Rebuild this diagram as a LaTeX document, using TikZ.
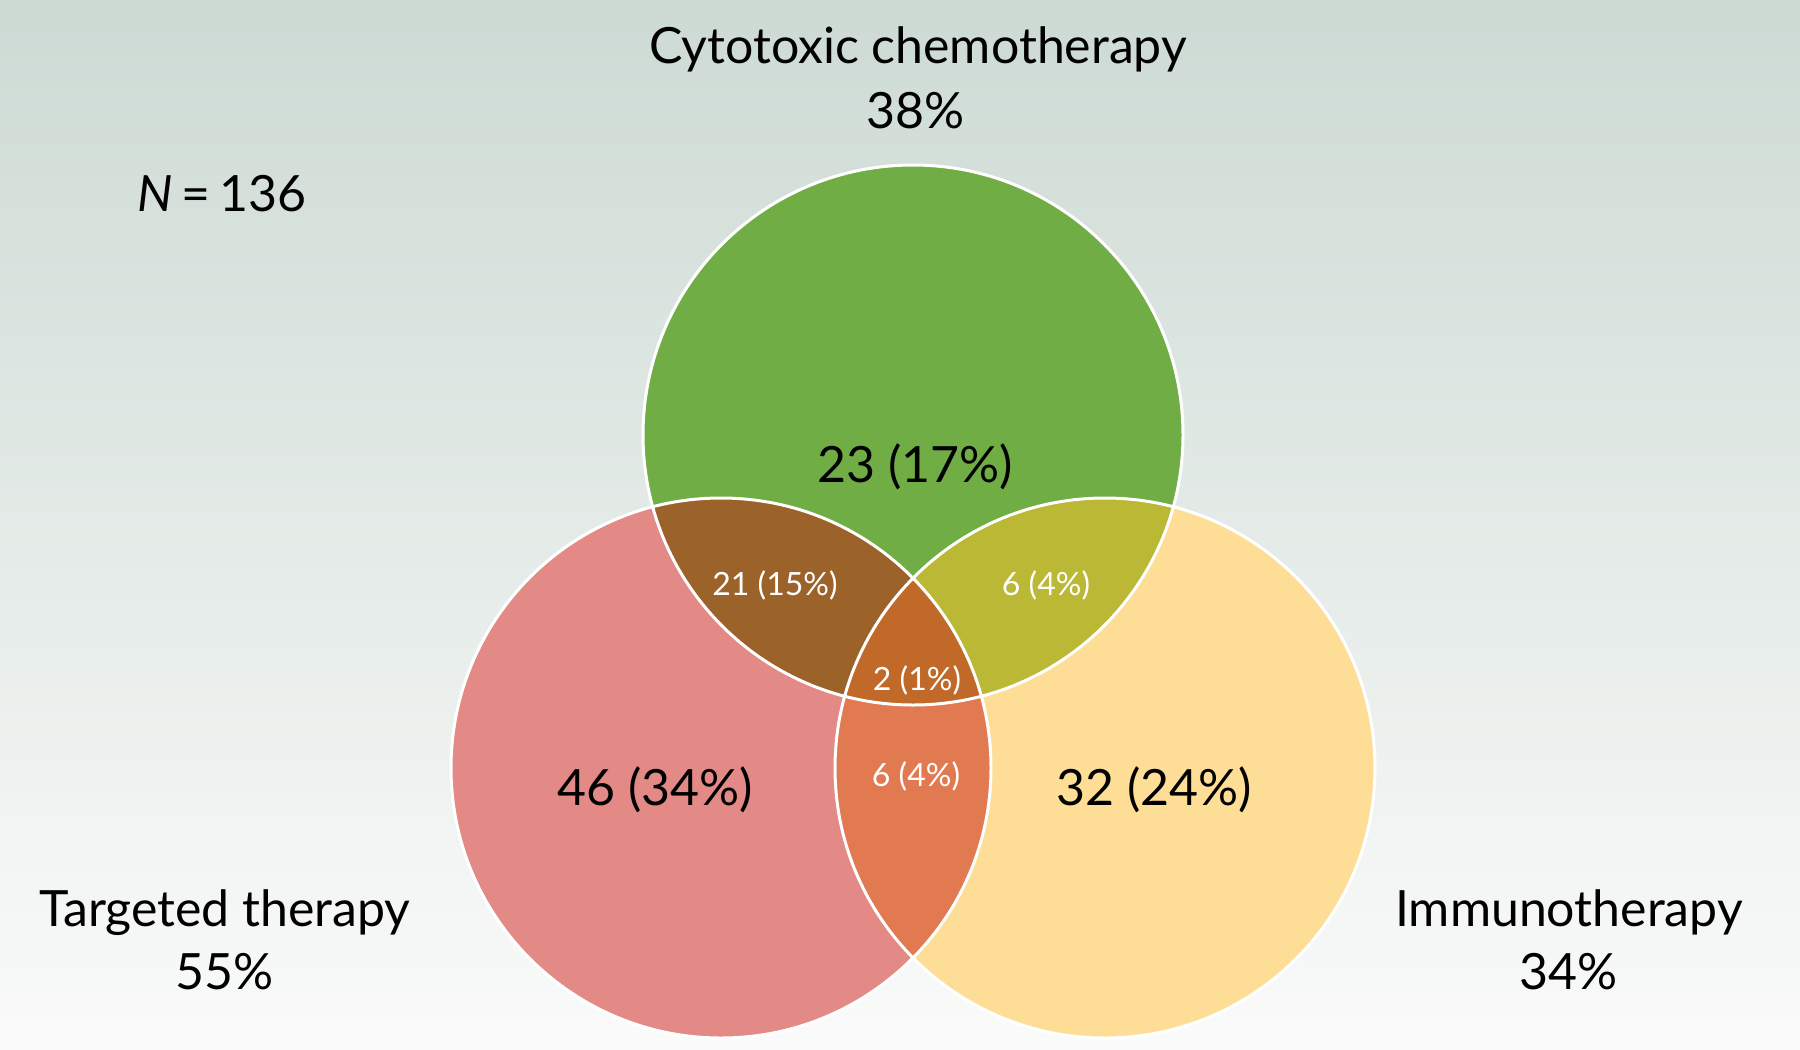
\documentclass[tikz,border=0pt]{standalone}
\usepackage{fontspec}
\setmainfont{Lato}
\definecolor{bgtop}{RGB}{205,218,212}
\definecolor{bgbot}{RGB}{250,251,250}
\definecolor{cgreen}{RGB}{112,173,69}
\definecolor{cpink}{RGB}{227,138,134}
\definecolor{cyellow}{RGB}{254,222,150}
\definecolor{cbrown}{RGB}{155,98,41}
\definecolor{colive}{RGB}{186,184,52}
\definecolor{corange}{RGB}{225,122,80}
\definecolor{ccenter}{RGB}{193,105,40}
\tikzset{
  bigtxt/.style={font=\fontsize{50}{60}\selectfont, inner sep=0pt, anchor=base, text=black},
  smalltxt/.style={font=\fontsize{32}{40}\selectfont, inner sep=0pt, anchor=base, text=white},
  ring/.style={draw=white, line width=3pt}
}
\begin{document}
\begin{tikzpicture}[x=1pt,y=-1pt]
\useasboundingbox (0,0) rectangle (1800,1050);
\shade[top color=bgtop, bottom color=bgbot] (0pt,0pt) rectangle (1800pt,-1050pt);
\coordinate (T) at (913,435);
\coordinate (L) at (721,768);
\coordinate (R) at (1105,768);
% single sets
\fill[cgreen] (T) circle (270pt);
\fill[cpink] (L) circle (270pt);
\fill[cyellow] (R) circle (270pt);
% pairwise
\begin{scope}
  \clip (T) circle (270pt);
  \fill[cbrown] (L) circle (270pt);
  \fill[colive] (R) circle (270pt);
\end{scope}
\begin{scope}
  \clip (L) circle (270pt);
  \fill[corange] (R) circle (270pt);
\end{scope}
% triple
\begin{scope}
  \clip (T) circle (270pt);
  \clip (L) circle (270pt);
  \fill[ccenter] (R) circle (270pt);
\end{scope}
% outlines
\draw[ring] (T) circle (270pt);
\draw[ring] (L) circle (270pt);
\draw[ring] (R) circle (270pt);
% outer labels
\node[bigtxt] (ctitle) at (918,63) {Cytotoxic chemotherapy};
\node[bigtxt] (cpct) at (916,128) {38\%};
\node[bigtxt] (ttitle) at (225,926) {Targeted therapy};
\node[bigtxt] (tpct) at (225,989) {55\%};
\node[bigtxt] (ititle) at (1569,926) {Immunotherapy};
\node[bigtxt] (ipct) at (1569,989) {34\%};
\node[bigtxt, anchor=base west] (nlab) at (137,211) {\textit{N}\hspace{9pt}=\hspace{9pt}136};
% region labels
\node[bigtxt] (gonly) at (915,482) {23 (17\%)};
\node[bigtxt] (ponly) at (655,805) {46 (34\%)};
\node[bigtxt] (yonly) at (1154,805) {32 (24\%)};
\node[smalltxt] (gp) at (775,595) {21 (15\%)};
\node[smalltxt] (gy) at (1046,595) {6 (4\%)};
\node[smalltxt] (gpy) at (917,690) {2 (1\%)};
\node[smalltxt] (py) at (916,786) {6 (4\%)};
\end{tikzpicture}
\end{document}
